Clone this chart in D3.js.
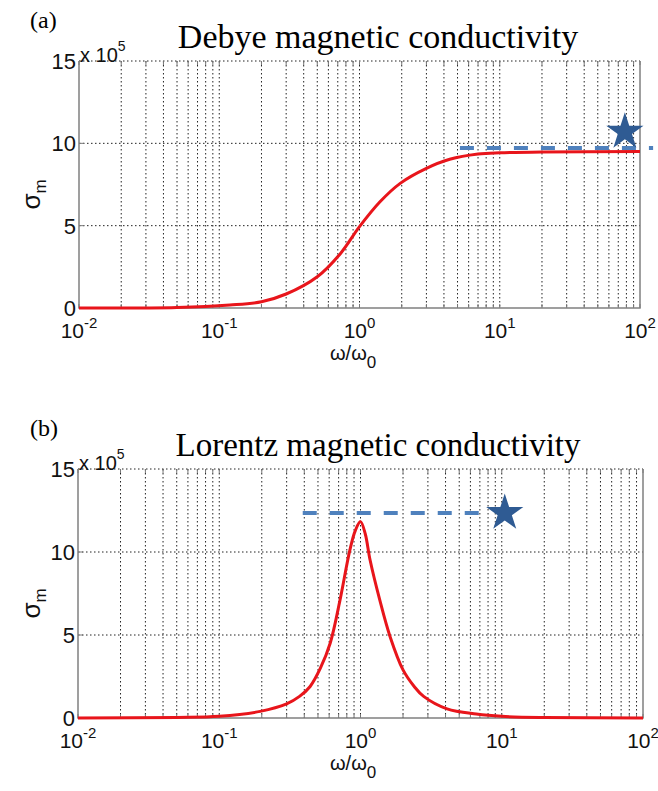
<!DOCTYPE html>
<html>
<head>
<meta charset="utf-8">
<script src="https://cdn.jsdelivr.net/npm/d3@7"></script>
<style>
  body { margin: 0; background: #fff; }
  svg { display: block; }
</style>
</head>
<body>
<div id="chart"></div>
<script>
// values (sigma in units of 1e5)
const debyeW = [0.01, 0.05, 0.119, 0.2, 0.3, 0.5, 0.73, 1.0, 1.4, 1.95, 3.0, 4.4, 7, 10, 20, 100]
const debyeSigma = [0, 0.03, 0.18, 0.38, 0.85, 1.9, 3.3, 4.94, 6.45, 7.57, 8.48, 9.03, 9.35, 9.43, 9.48, 9.5]
const lorentzW = [0.01, 0.05, 0.1, 0.195, 0.3, 0.37, 0.44, 0.52, 0.61, 0.716, 0.84, 0.92, 1.0, 1.08, 1.17, 1.37, 1.62, 2.0, 2.4, 2.8, 4.1, 6.6, 10, 20, 100]
const lorentzSigma = [0, 0.03, 0.1, 0.4, 0.85, 1.3, 1.9, 3.0, 4.5, 7.1, 10.1, 11.3, 11.83, 11.1, 9.5, 7.1, 4.9, 2.9, 1.9, 1.3, 0.55, 0.24, 0.1, 0.03, 0]
const yTicks = [0, 5, 10, 15]
const xTickExp = [-2, -1, 0, 1, 2]
// dashed reference line [from, to] at a level, and star [w, sigma]
const debyeRef = [5.2, 124], debyeRefLevel = 9.71, debyeStar = [78, 10.7]
const lorentzRef = [0.39, 7.24], lorentzRefLevel = 12.35, lorentzStar = [10.5, 12.35]

const width = 658, height = 791

let svg = d3.select('#chart')
  .append('svg')
  .attr('width', width)
  .attr('height', height)

let drawPanel = (p) => {
  let x = d3.scaleLog().domain([0.01, 100]).range([p.left, p.right])
  let y = d3.scaleLinear().domain([0, 15]).range([p.bottom, p.top])
  let g = svg.append('g')

  // grid: every decade and sub-decade
  let minor = []
  for (let e = -2; e < 2; e++) {
    for (let k = 1; k < 10; k++) minor.push(k * Math.pow(10, e))
  }
  minor.push(100)
  g.selectAll('.vg').data(minor.filter(v => v > 0.01 && v < 100)).enter()
    .append('line')
    .attr('x1', d => x(d)).attr('x2', d => x(d))
    .attr('y1', p.top).attr('y2', p.bottom)
    .attr('stroke', '#222').attr('stroke-width', 1)
    .attr('stroke-dasharray', '1.5,2.5')
  g.selectAll('.hg').data([5, 10, 15]).enter()
    .append('line')
    .attr('x1', p.left).attr('x2', p.right)
    .attr('y1', d => y(d)).attr('y2', d => y(d))
    .attr('stroke', '#222').attr('stroke-width', 1)
    .attr('stroke-dasharray', '1.5,2.5')

  // inward ticks
  g.selectAll('.tb').data(minor).enter()
    .append('line')
    .attr('x1', d => x(d)).attr('x2', d => x(d))
    .attr('y1', p.bottom).attr('y2', p.bottom - 4)
    .attr('stroke', '#777')
  g.selectAll('.tt').data(minor).enter()
    .append('line')
    .attr('x1', d => x(d)).attr('x2', d => x(d))
    .attr('y1', p.top).attr('y2', p.top + 4)
    .attr('stroke', '#777')
  g.selectAll('.tl').data(yTicks).enter()
    .append('line')
    .attr('x1', p.left).attr('x2', p.left + 5)
    .attr('y1', d => y(d)).attr('y2', d => y(d))
    .attr('stroke', '#777')

  // box (left, bottom, right solid)
  g.append('path')
    .attr('d', `M${p.left},${p.top}V${p.bottom}H${p.right}V${p.top}`)
    .attr('fill', 'none').attr('stroke', '#808080').attr('stroke-width', 1.5)

  // curve
  let line = d3.line()
    .x((d, i) => x(p.w[i]))
    .y(d => y(Math.max(0, d)))
    .curve(d3.curveCatmullRom.alpha(0.5))
  g.append('path')
    .datum(p.sigma)
    .attr('d', line)
    .attr('fill', 'none')
    .attr('stroke', '#e8151b')
    .attr('stroke-width', 3)

  // dashed reference + star
  g.append('line')
    .attr('x1', x(p.ref[0])).attr('x2', x(p.ref[1]))
    .attr('y1', y(p.refLevel)).attr('y2', y(p.refLevel))
    .attr('stroke', '#4f81bd').attr('stroke-width', 4)
    .attr('stroke-dasharray', '14,13')
  g.append('path')
    .attr('d', d3.symbol(d3.symbolStar, 430)())
    .attr('transform', `translate(${x(p.star[0])},${y(p.star[1])})`)
    .attr('fill', '#2f5b93')

  // y tick labels
  g.selectAll('.yl').data(yTicks).enter()
    .append('text')
    .attr('x', p.left - 3).attr('y', d => y(d) + 8)
    .attr('text-anchor', 'end')
    .attr('font-family', 'Arial, Liberation Sans, sans-serif')
    .attr('font-size', 22)
    .attr('fill', '#111')
    .text(d => d)

  // x tick labels 10^n
  let xl = g.selectAll('.xl').data(xTickExp).enter()
    .append('text')
    .attr('x', d => x(Math.pow(10, d)))
    .attr('y', p.bottom + 30)
    .attr('text-anchor', 'middle')
    .attr('font-family', 'Arial, Liberation Sans, sans-serif')
    .attr('font-size', 21)
    .attr('fill', '#111')
  xl.append('tspan').text('10')
  xl.append('tspan').attr('dy', -10).attr('font-size', 15).text(d => d)

  // exponent label
  let ex = g.append('text')
    .attr('x', p.left + 1).attr('y', p.top + 1)
    .attr('font-family', 'Arial, Liberation Sans, sans-serif')
    .attr('font-size', 20)
    .attr('fill', '#111')
  ex.append('tspan').text('x 10')
  ex.append('tspan').attr('dy', -11).attr('font-size', 14).text('5')

  // axis labels
  let xt = g.append('text')
    .attr('x', 330).attr('y', p.bottom + 52)
    .attr('font-family', 'Arial, Liberation Sans, sans-serif')
    .attr('font-size', 20)
    .attr('fill', '#111')
  xt.append('tspan').text('ω/ω')
  xt.append('tspan').attr('dy', 8).attr('font-size', 17).text('0')

  let yt = g.append('text')
    .attr('transform', `translate(40,${(p.top + p.bottom) / 2 + 10}) rotate(-90)`)
    .attr('text-anchor', 'middle')
    .attr('font-family', 'Arial, Liberation Sans, sans-serif')
    .attr('font-size', 26)
    .attr('fill', '#111')
  yt.append('tspan').text('σ')
  yt.append('tspan').attr('dy', 6).attr('font-size', 17).text('m')

  // title and panel letter
  g.append('text')
    .attr('x', 378).attr('y', p.top - 13)
    .attr('text-anchor', 'middle')
    .attr('font-family', 'Times New Roman, Liberation Serif, serif')
    .attr('font-size', p.titleSize)
    .attr('fill', '#000')
    .text(p.title)
  g.append('text')
    .attr('x', 30).attr('y', p.top - 33)
    .attr('font-family', 'Times New Roman, Liberation Serif, serif')
    .attr('font-size', 24)
    .attr('fill', '#000')
    .text(p.letter)
}

drawPanel({
  left: 79, right: 640, top: 61, bottom: 308,
  w: debyeW, sigma: debyeSigma,
  ref: debyeRef, refLevel: debyeRefLevel, star: debyeStar,
  title: 'Debye magnetic conductivity', letter: '(a)', titleSize: 34
})
drawPanel({
  left: 78, right: 643, top: 469, bottom: 718,
  w: lorentzW, sigma: lorentzSigma,
  ref: lorentzRef, refLevel: lorentzRefLevel, star: lorentzStar,
  title: 'Lorentz magnetic conductivity', letter: '(b)', titleSize: 33
})
</script>
</body>
</html>
